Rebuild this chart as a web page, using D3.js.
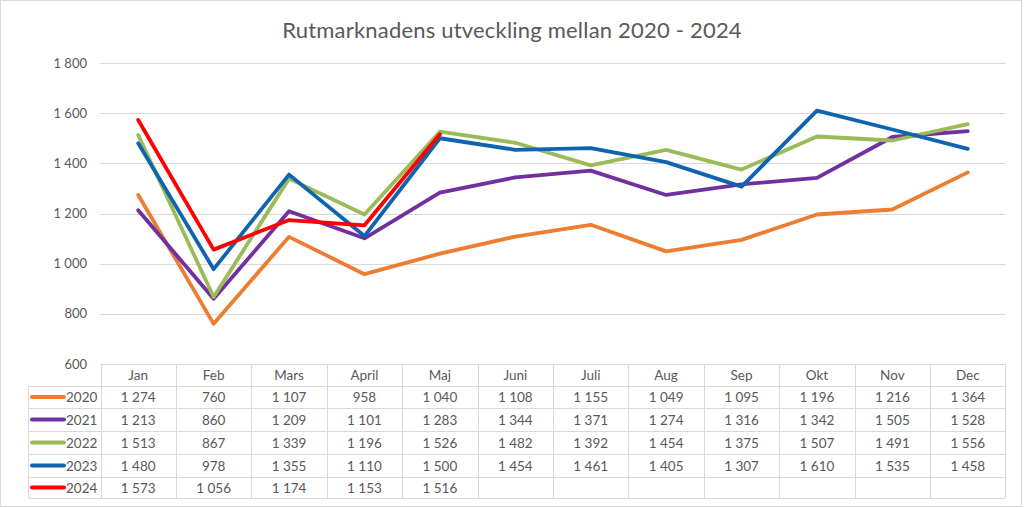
<!DOCTYPE html>
<html><head><meta charset="utf-8">
<script src="https://cdn.jsdelivr.net/npm/d3@7"></script>
<style>body{margin:0;background:#fff}svg{display:block}text{font-family:Lato,"Open Sans",sans-serif}</style>
</head><body><svg id="c" width="1024" height="508"></svg>
<script>
const months = ["Jan","Feb","Mars","April","Maj","Juni","Juli","Aug","Sep","Okt","Nov","Dec"];
const seriesNames = ["2020","2021","2022","2023","2024"];
const seriesColors = ["#ED7D31","#7030A0","#9BBB59","#0E64AE","#FF0000"];
const v2020 = [1274,760,1107,958,1040,1108,1155,1049,1095,1196,1216,1364];
const v2021 = [1213,860,1209,1101,1283,1344,1371,1274,1316,1342,1505,1528];
const v2022 = [1513,867,1339,1196,1526,1482,1392,1454,1375,1507,1491,1556];
const v2023 = [1480,978,1355,1110,1500,1454,1461,1405,1307,1610,1535,1458];
const v2024 = [1573,1056,1174,1153,1516];
const yTicks = [600,800,1000,1200,1400,1600,1800];
const title = "Rutmarknadens utveckling mellan 2020 - 2024";
const allSeries = [v2020,v2021,v2022,v2023,v2024];

const svg = d3.select("#c");
svg.append("rect").attr("x",0.5).attr("y",0.5).attr("width",1021).attr("height",506).attr("fill","#fff").attr("stroke","#d9d9d9");

const L=100.5, R=1005.5, T=63, B=364;
const x = d3.scaleBand().domain(months).range([L,R]);
const y = d3.scaleLinear().domain([600,1800]).range([B,T]);
const fmt = v => d3.format(",")(v).replace(/,/g," ");

svg.append("text").attr("x",512).attr("y",38).attr("text-anchor","middle").attr("font-size",22).attr("letter-spacing",0.2).attr("fill","#595959").text(title);

// gridlines
svg.append("g").selectAll("line").data(yTicks).join("line")
  .attr("x1",L).attr("x2",R).attr("y1",d=>Math.round(y(d))+0.5).attr("y2",d=>Math.round(y(d))+0.5)
  .attr("stroke","#d9d9d9").attr("stroke-width",1);
svg.append("g").selectAll("text").data(yTicks).join("text")
  .attr("x",87).attr("y",d=>y(d)+4.5).attr("text-anchor","end").attr("font-size",13).attr("fill","#595959").text(fmt);

// lines
const line = d3.line().x((d,i)=>x(months[i])+x.bandwidth()/2).y(d=>y(d));
allSeries.forEach((s,k)=>{
  svg.append("path").datum(s).attr("d",line).attr("fill","none").attr("stroke",seriesColors[k])
    .attr("stroke-width",3.8).attr("stroke-linejoin","round").attr("stroke-linecap","round");
});

// data table
const rowTop = [364,386,408,431,454,477,498];
const tg = svg.append("g");
const gridColor = "#d9d9d9";
months.forEach((m,i)=>{
  tg.append("line").attr("x1",Math.round(x(m))+0.5).attr("x2",Math.round(x(m))+0.5).attr("y1",B).attr("y2",rowTop[6]).attr("stroke",gridColor);
});
tg.append("line").attr("x1",R).attr("x2",R).attr("y1",B).attr("y2",rowTop[6]).attr("stroke",gridColor);
tg.append("line").attr("x1",28.5).attr("x2",28.5).attr("y1",rowTop[1]).attr("y2",rowTop[6]).attr("stroke",gridColor);
rowTop.forEach((yy,i)=>{
  tg.append("line").attr("x1",i===0?L:28.5).attr("x2",R).attr("y1",yy+0.5).attr("y2",yy+0.5).attr("stroke",gridColor);
});
tg.selectAll("text.h").data(months).join("text").attr("class","h")
  .attr("x",d=>x(d)+x.bandwidth()/2).attr("y",(rowTop[0]+rowTop[1])/2+5).attr("text-anchor","middle")
  .attr("font-size",13.5).attr("fill","#595959").text(d=>d);
allSeries.forEach((s,k)=>{
  const cy=(rowTop[k+1]+rowTop[k+2])/2;
  tg.append("line").attr("x1",32).attr("x2",64).attr("y1",cy).attr("y2",cy).attr("stroke",seriesColors[k]).attr("stroke-width",4).attr("stroke-linecap","round");
  tg.append("text").attr("x",66).attr("y",cy+5).attr("font-size",13.5).attr("fill","#595959").text(seriesNames[k]);
  tg.selectAll(null).data(s).join("text")
    .attr("x",(d,i)=>x(months[i])+x.bandwidth()/2).attr("y",cy+5).attr("text-anchor","middle")
    .attr("font-size",13.5).attr("fill","#595959").text(fmt);
});
</script></body></html>
